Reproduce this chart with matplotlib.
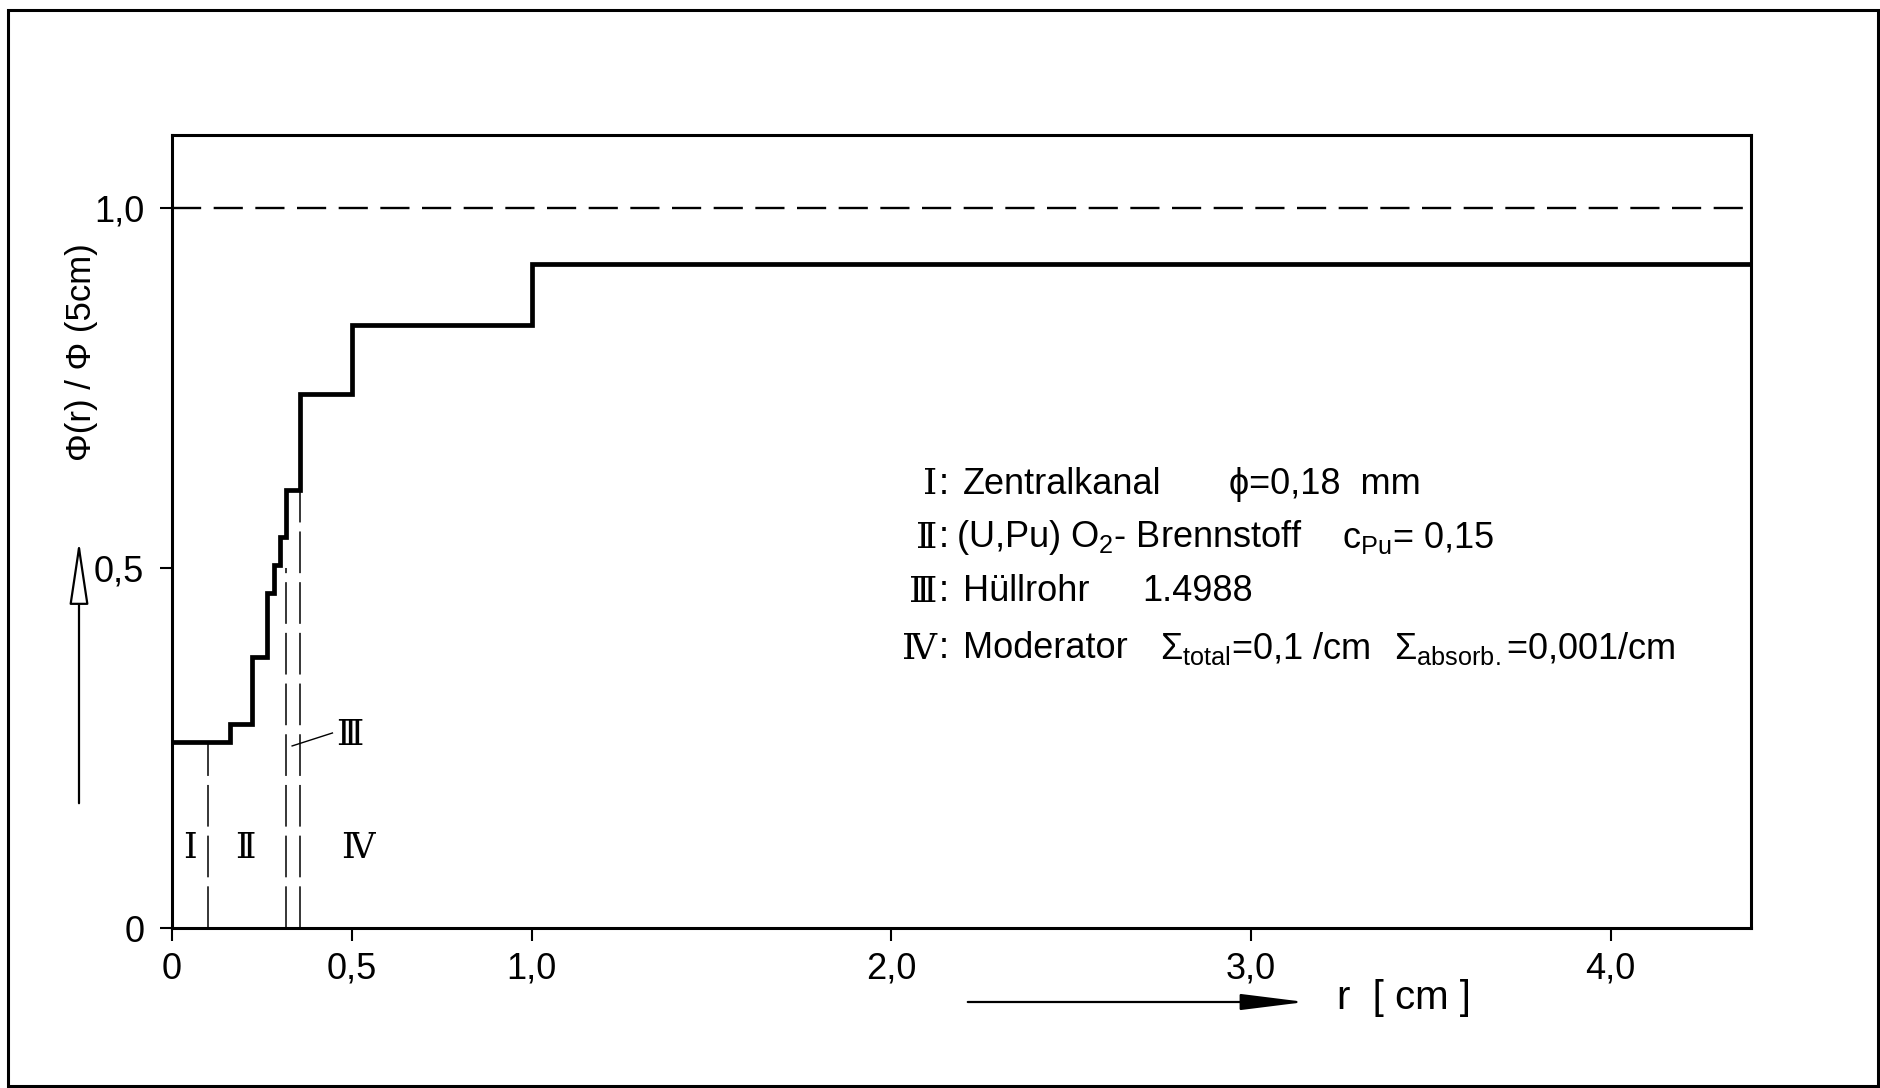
import matplotlib
matplotlib.use("Agg")
import matplotlib.pyplot as plt
from matplotlib.patches import Rectangle, FancyArrowPatch

plt.rcParams['font.family'] = ['Liberation Sans', 'DejaVu Sans']
plt.rcParams['mathtext.fontset'] = 'custom'
plt.rcParams['mathtext.rm'] = 'Liberation Sans'
plt.rcParams['mathtext.it'] = 'Liberation Sans'
plt.rcParams['mathtext.bf'] = 'Liberation Sans'
plt.rcParams['lines.scale_dashes'] = False

# ---------------- data ----------------
step_edges = [0.0, 0.161, 0.222, 0.265, 0.283, 0.299, 0.318, 0.356, 0.5, 1.0, 4.39]
flux_ratio = [0.258, 0.283, 0.376, 0.466, 0.505, 0.544, 0.609, 0.742, 0.838, 0.923]
reference_level = 1.0
zone_boundaries = [0.099, 0.316, 0.357]
zone_boundary_tops = [0.258, 0.50, 0.609]
zone_labels = ['Ⅰ', 'Ⅱ', 'Ⅳ']
zone_label_x = [0.049, 0.205, 0.516]
x_ticks = [0, 0.5, 1.0, 2.0, 3.0, 4.0]
x_tick_labels = ['0', '0,5', '1,0', '2,0', '3,0', '4,0']
y_ticks = [0, 0.5, 1.0]
y_tick_labels = ['0', '0,5', '1,0']

ROMAN = ['DejaVu Serif']

fig = plt.figure(figsize=(18.8, 10.88), dpi=100)
ax = fig.add_axes([172/1880, 1-928/1088, 1579/1880, 793/1088])
ax.set_xlim(0, 4.39)
ax.set_ylim(0, 1.102)

for s in ax.spines.values():
    s.set_linewidth(2.2)

ax.stairs(flux_ratio, step_edges, baseline=None, color='black', lw=3.4)
ax.axhline(reference_level, color='black', lw=1.7, linestyle=(0, (21, 9)))
ax.vlines(zone_boundaries, 0, zone_boundary_tops, colors='black', lw=1.1,
          linestyles=[(0, (30, 6.5))])

ax.set_xticks(x_ticks)
ax.set_xticklabels(x_tick_labels)
ax.set_yticks(y_ticks)
ax.set_yticklabels(y_tick_labels)
ax.tick_params(axis='x', direction='out', length=9, width=1.5, labelsize=26, pad=8)
ax.tick_params(axis='y', direction='out', length=9, width=1.5, labelsize=26, pad=11)

# zone labels
for lab, xx in zip(zone_labels, zone_label_x):
    ax.text(xx, 0.111, lab, ha='center', va='center', fontsize=25, family=ROMAN)
ax.text(0.493, 0.268, 'Ⅲ', ha='center', va='center', fontsize=25, family=ROMAN)
ax.plot([0.334, 0.446], [0.253, 0.271], color='black', lw=1.0)

# legend block
fs = 26
rows_y = [0.617, 0.542, 0.467, 0.388]
numerals = ['Ⅰ', 'Ⅱ', 'Ⅲ', 'Ⅳ']
for yy, nm in zip(rows_y, numerals):
    ax.text(2.128, yy, nm, ha='right', va='center', fontsize=fs, family=ROMAN)
    ax.text(2.133, yy, ':', ha='left', va='center', fontsize=fs)
ax.text(2.198, rows_y[0], 'Zentralkanal', ha='left', va='center', fontsize=fs)
ax.text(2.938, rows_y[0], 'ϕ=0,18  mm', ha='left', va='center', fontsize=fs,
        family=['Liberation Sans', 'DejaVu Sans'])
ax.text(2.181, rows_y[1], r'(U,Pu) O$_{2}$- Brennstoff', ha='left', va='center', fontsize=fs)
ax.text(3.254, rows_y[1], r'c$_{\mathrm{Pu}}$= 0,15', ha='left', va='center', fontsize=fs)
ax.text(2.198, rows_y[2], 'Hüllrohr', ha='left', va='center', fontsize=fs)
ax.text(2.698, rows_y[2], '1.4988', ha='left', va='center', fontsize=fs)
ax.text(2.198, rows_y[3], 'Moderator', ha='left', va='center', fontsize=fs)
ax.text(2.748, rows_y[3], r'$\Sigma_{\mathrm{total}}$=0,1 /cm', ha='left', va='center', fontsize=fs)
ax.text(3.397, rows_y[3], r'$\Sigma_{\mathrm{absorb.}}$=0,001/cm', ha='left', va='center', fontsize=fs)

# axis labels with arrows
fig.text(81/1880, 1-352/1088, 'Φ(r) / Φ (5cm)', rotation=90, ha='center', va='center', fontsize=25)
fig.patches.append(FancyArrowPatch((79/1880, 1-806/1088), (79/1880, 1-538/1088),
                                   transform=fig.transFigure, arrowstyle='-|>,head_length=2.0,head_width=0.3',
                                   mutation_scale=20, lw=1.6, edgecolor='black', facecolor='white'))
fig.text(1337/1880, 1-998/1088, 'r  [ cm ]', ha='left', va='center', fontsize=29)
fig.patches.append(FancyArrowPatch((965/1880, 1-1002/1088), (1308/1880, 1-1002/1088),
                                   transform=fig.transFigure, arrowstyle='-|>,head_length=2.0,head_width=0.25',
                                   mutation_scale=20, lw=1.6, color='black'))

# outer frame
fig.patches.append(Rectangle((8/1880, 2/1088), 1870/1880, 1076/1088, transform=fig.transFigure,
                             fill=False, lw=2.2, edgecolor='black'))

fig.savefig('out.png', dpi=100)
